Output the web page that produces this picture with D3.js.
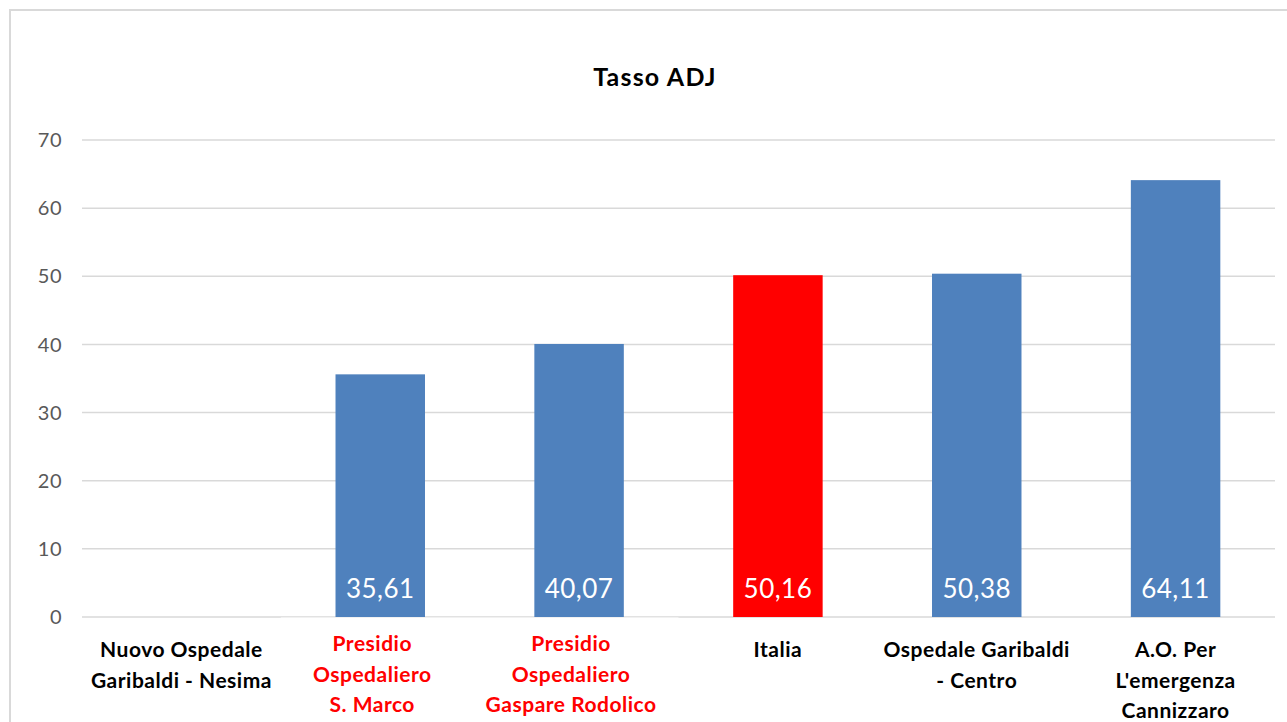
<!DOCTYPE html>
<html>
<head>
<meta charset="utf-8">
<script src="https://cdn.jsdelivr.net/npm/d3@7"></script>
<style>
  body { margin: 0; background: #fff; }
  svg { display: block; font-family: Lato, "Open Sans", sans-serif; }
</style>
</head>
<body>
<div id="chart"></div>
<script>
// chart values
const categories = [
  ["Nuovo Ospedale", "Garibaldi - Nesima"],
  ["Presidio", "Ospedaliero", "S. Marco"],
  ["Presidio", "Ospedaliero", "Gaspare Rodolico"],
  ["Italia"],
  ["Ospedale Garibaldi", "- Centro"],
  ["A.O. Per", "L'emergenza", "Cannizzaro"]
];
const values = [null, 35.61, 40.07, 50.16, 50.38, 64.11];
const highlighted = [false, true, true, false, false, false];   // red category labels
const isReference = [false, false, false, true, false, false]; // Italia bar in red
const yTicks = [0, 10, 20, 30, 40, 50, 60, 70];
const title = "Tasso ADJ";

const width = 1287, height = 722;
const margin = { top: 140, right: 12, bottom: 105, left: 82 };
const innerW = width - margin.left - margin.right;
const innerH = 617 - margin.top;

const svg = d3.select("#chart").append("svg")
  .attr("width", width)
  .attr("height", height);

// chart frame
svg.append("rect")
  .attr("x", 10).attr("y", 10)
  .attr("width", 1300).attr("height", 800)
  .attr("fill", "none")
  .attr("stroke", "#d9d9d9")
  .attr("stroke-width", 2);

svg.append("text")
  .attr("x", 655)
  .attr("y", 86)
  .attr("text-anchor", "middle")
  .style("font-size", "25px")
  .style("font-weight", "bold")
  .style("letter-spacing", "1.2px")
  .attr("fill", "#000")
  .text(title);

const g = svg.append("g")
  .attr("transform", `translate(${margin.left},${margin.top})`);

const x = d3.scaleBand()
  .domain(d3.range(categories.length))
  .range([0, innerW])
  .paddingInner(0.55)
  .paddingOuter(0.275);

const y = d3.scaleLinear()
  .domain([0, 70])
  .range([innerH, 0]);

// gridlines
g.append("g")
  .selectAll("line")
  .data(yTicks)
  .join("line")
  .attr("x1", 0)
  .attr("x2", innerW)
  .attr("y1", d => y(d))
  .attr("y2", d => y(d))
  .attr("stroke", "#d9d9d9")
  .attr("stroke-width", 1.5);

// y labels
g.append("g")
  .selectAll("text")
  .data(yTicks)
  .join("text")
  .attr("x", -20)
  .attr("y", d => y(d))
  .attr("dy", "0.36em")
  .attr("text-anchor", "end")
  .attr("fill", "#595959")
  .style("font-size", "20px")
  .style("letter-spacing", "0.5px")
  .text(d => d);

// bars
const bars = values.map((v, i) => ({ i, v })).filter(d => d.v !== null);

g.append("g")
  .selectAll("rect")
  .data(bars)
  .join("rect")
  .attr("x", d => x(d.i))
  .attr("width", x.bandwidth())
  .attr("y", d => y(d.v))
  .attr("height", d => y(0) - y(d.v))
  .attr("fill", d => isReference[d.i] ? "#ff0000" : "#4f81bd");

g.append("g")
  .selectAll("text")
  .data(bars)
  .join("text")
  .attr("x", d => x(d.i) + x.bandwidth() / 2)
  .attr("y", y(0) - 19)
  .attr("text-anchor", "middle")
  .attr("fill", "#fff")
  .style("font-size", "26px")
  .style("letter-spacing", "0.5px")
  .text(d => d3.format(".2f")(d.v).replace(".", ","));

// background behind red labels (covers lower half of the base line)
const redIdx = highlighted.map((h, i) => h ? i : -1).filter(i => i >= 0);
g.append("rect")
  .attr("x", x(redIdx[0]) - x.step() * x.paddingInner() / 2)
  .attr("y", y(0) + 0.5)
  .attr("width", x(redIdx[redIdx.length - 1]) - x(redIdx[0]) + x.step())
  .attr("height", 120)
  .attr("fill", "#fff");

// category labels (red ones sit in their own text boxes, slightly up and left)
const xl = g.append("g")
  .selectAll("text")
  .data(categories)
  .join("text")
  .attr("x", (d, i) => x(i) + x.bandwidth() / 2 + (highlighted[i] ? -8 : 0))
  .attr("y", (d, i) => y(0) + (highlighted[i] ? 34 : 40))
  .attr("text-anchor", "middle")
  .attr("fill", (d, i) => highlighted[i] ? "#ff0000" : "#000")
  .style("font-size", "21px")
  .style("font-weight", "bold")
  .style("letter-spacing", "0.5px");

xl.selectAll("tspan")
  .data(d => d)
  .join("tspan")
  .attr("x", function () { return d3.select(this.parentNode).attr("x"); })
  .attr("dy", (d, j) => j === 0 ? 0 : 30.5)
  .text(d => d);
</script>
</body>
</html>
